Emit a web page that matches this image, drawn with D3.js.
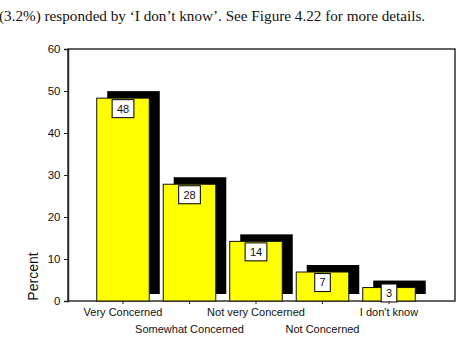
<!DOCTYPE html>
<html><head><meta charset="utf-8">
<script src="https://cdn.jsdelivr.net/npm/d3@7"></script>
<style>body{margin:0;background:#fff;}svg{display:block;}</style>
</head><body>
<svg id="c" width="474" height="344"></svg>
<script>
const categories = ["Very Concerned","Somewhat Concerned","Not very Concerned","Not Concerned","I don't know"];
const percents = [48.3, 27.8, 14.2, 6.9, 3.2];
const yTicks = [0,10,20,30,40,50,60];
const caption = "(3.2%) responded by \u2018I don\u2019t know\u2019. See Figure 4.22 for more details.";

(function () {
const svg = d3.select("#c");
const sans = "'Liberation Sans', Arial, sans-serif";

svg.append("text").attr("x", -1).attr("y", 20.5)
  .attr("font-family", "'Liberation Serif', 'Times New Roman', serif")
  .attr("font-size", 15.2).attr("fill", "#111").text(caption);

const pL = 68, pR = 455, pT = 49, pB = 301;
const y = d3.scaleLinear().domain([0, 60]).range([pB, pT]);
const x = d3.scaleBand().domain(categories).range([89.75, 422.25]).paddingInner(0.21).paddingOuter(0.105);
const dx = 10.5, dy = -7;

// frame
svg.append("rect").attr("x", pL).attr("y", pT).attr("width", pR - pL).attr("height", pB - pT)
  .attr("fill", "none").attr("stroke", "#222").attr("stroke-width", 1.4);

// shadows
svg.selectAll("rect.sh").data(percents).join("rect").attr("class", "sh")
  .attr("x", (d, i) => x(categories[i]) + dx)
  .attr("y", d => y(d) + dy)
  .attr("width", x.bandwidth())
  .attr("height", d => y(0) - y(d))
  .attr("fill", "#000");

// bars
svg.selectAll("rect.bar").data(percents).join("rect").attr("class", "bar")
  .attr("x", (d, i) => x(categories[i]))
  .attr("y", d => y(d))
  .attr("width", x.bandwidth())
  .attr("height", d => y(0) - y(d))
  .attr("fill", "#ffff00").attr("stroke", "#111").attr("stroke-width", 1);

// value labels
const lab = svg.selectAll("g.lab").data(percents).join("g").attr("class", "lab")
  .attr("transform", (d, i) => `translate(${x(categories[i]) + x.bandwidth() / 2},${Math.min(y(d) + 10.5, y(0) - 8)})`);
lab.each(function(d) {
  const g = d3.select(this);
  const t = g.append("text").attr("text-anchor", "middle").attr("dy", "0.36em")
    .attr("font-family", sans).attr("font-size", 11).attr("fill", "#111").text(Math.round(d));
  const w = t.node().getComputedTextLength() + 9.5;
  g.insert("rect", "text").attr("x", -w / 2).attr("y", -9).attr("width", w).attr("height", 18)
    .attr("fill", "#fff").attr("stroke", "#111").attr("stroke-width", 1.1);
});

// y axis
const ya = svg.append("g").attr("transform", `translate(${pL},0)`)
  .call(d3.axisLeft(y).tickValues(yTicks).tickSize(4).tickPadding(3.5));
ya.select(".domain").attr("stroke", "#222").attr("stroke-width", 1.4);
ya.selectAll("line").attr("stroke", "#222");
ya.selectAll("text").attr("font-family", sans).attr("font-size", 11.5).attr("fill", "#111");

// x axis
const xa = svg.append("g").attr("transform", `translate(0,${pB})`)
  .call(d3.axisBottom(x).tickSize(3).tickPadding(0));
xa.select(".domain").remove();
xa.selectAll("line").attr("stroke", "#222");
xa.selectAll("text").attr("font-family", sans).attr("font-size", 11).attr("fill", "#111")
  .attr("dy", null)
  .attr("y", (d, i) => i % 2 === 0 ? 15 : 32);

svg.append("text").attr("transform", `translate(37.5,276.5) rotate(-90)`)
  .attr("text-anchor", "middle").attr("font-family", sans).attr("font-size", 14).attr("fill", "#111")
  .text("Percent");
})();
</script>
</body></html>
